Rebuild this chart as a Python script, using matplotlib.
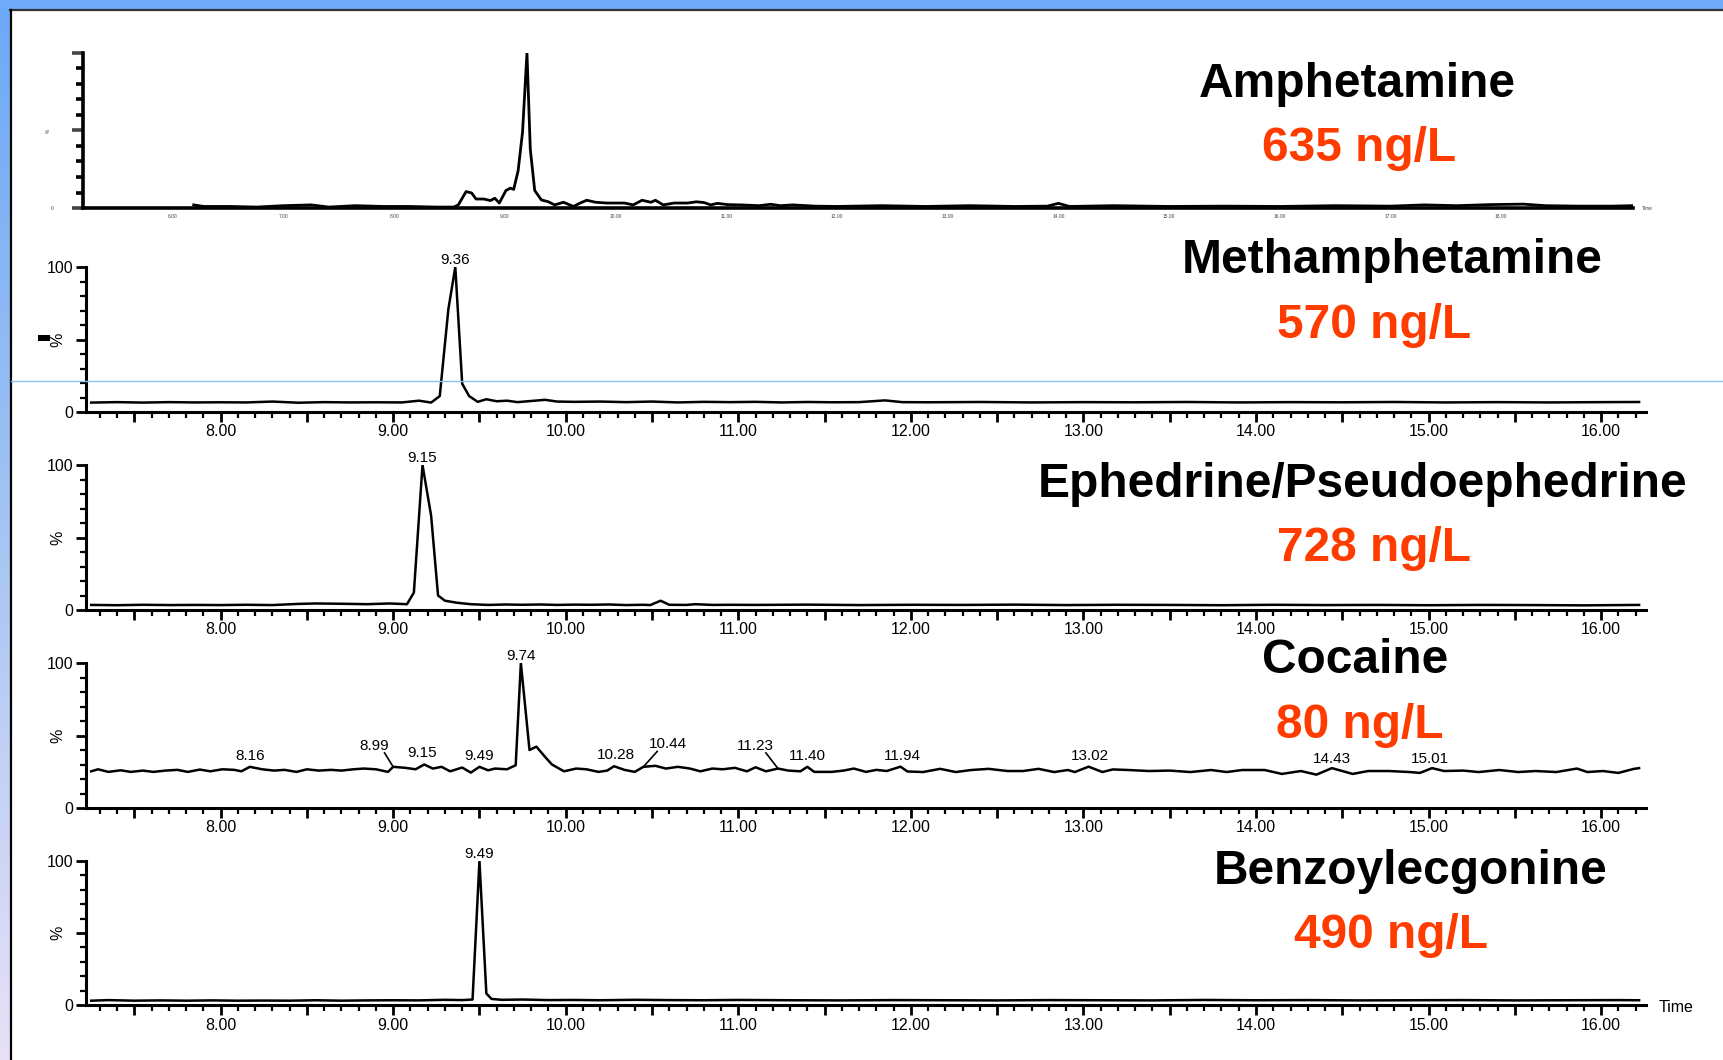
import numpy as np
import matplotlib
matplotlib.use('Agg')
import matplotlib.pyplot as plt
from matplotlib.ticker import MultipleLocator, FixedLocator, FuncFormatter
from matplotlib.patches import Rectangle
from matplotlib.lines import Line2D

plt.rcParams['font.family'] = ['Liberation Sans', 'DejaVu Sans']

# --- data (time [min], intensity [%]) ---
amph_t = [6.19, 6.28, 6.52, 6.76, 7.00, 7.25, 7.41, 7.65, 7.90, 8.14, 8.38, 8.54, 8.58,
          8.65, 8.70, 8.74, 8.81, 8.87, 8.91, 8.95, 9.01, 9.05, 9.08, 9.12, 9.16, 9.20,
          9.23, 9.27, 9.33, 9.39, 9.45, 9.53, 9.62, 9.68, 9.74, 9.82, 9.92, 10.08, 10.16,
          10.24, 10.32, 10.36, 10.43, 10.53, 10.65, 10.73, 10.80, 10.86, 10.92, 11.01,
          11.13, 11.30, 11.40, 11.49, 11.60, 11.80, 12.00, 12.40, 12.80, 13.20, 13.60,
          13.90, 14.00, 14.10, 14.50, 15.00, 15.50, 16.00, 16.50, 17.00, 17.30, 17.60,
          17.90, 18.20, 18.40, 18.70, 19.00, 19.18]
amph_y = [2.0, 1.0, 1.0, 0.6, 1.5, 2.0, 0.6, 1.5, 1.0, 1.0, 0.6, 0.6, 2.0,
          10.6, 9.7, 5.8, 5.8, 4.8, 6.3, 3.2, 11.3, 12.8, 12.0, 24.0, 49.0, 100.0,
          38.0, 11.3, 5.2, 4.1, 2.0, 3.7, 1.0, 3.2, 5.0, 3.7, 3.2, 3.2, 2.0,
          5.0, 3.7, 5.0, 2.0, 3.2, 3.2, 4.0, 3.5, 2.0, 3.0, 2.2,
          2.0, 1.5, 2.4, 1.5, 2.0, 1.2, 1.0, 1.5, 1.0, 1.5, 1.0,
          1.2, 3.0, 1.0, 1.5, 1.0, 1.2, 1.0, 1.5, 1.2, 2.0, 1.5,
          2.2, 2.5, 1.5, 1.2, 1.2, 1.5]

meth_t = [7.25, 7.40, 7.55, 7.70, 7.85, 8.00, 8.15, 8.30, 8.45, 8.60, 8.75, 8.90, 9.05,
          9.15, 9.22, 9.27, 9.32, 9.36, 9.40, 9.44, 9.49, 9.54, 9.60, 9.66, 9.72, 9.80,
          9.88, 9.95, 10.05, 10.20, 10.35, 10.50, 10.65, 10.80, 10.95, 11.10, 11.25,
          11.40, 11.55, 11.70, 11.85, 11.95, 12.10, 12.40, 12.70, 13.00, 13.30, 13.60,
          13.90, 14.20, 14.50, 14.80, 15.10, 15.40, 15.70, 16.00, 16.22]
meth_y = [6.5, 6.8, 6.5, 6.8, 6.6, 6.7, 6.6, 7.2, 6.4, 6.8, 6.6, 6.7, 6.6,
          7.8, 6.5, 11.0, 71.0, 100.0, 19.5, 11.0, 7.0, 8.8, 7.4, 7.8, 6.8, 7.6,
          8.4, 7.2, 7.0, 7.2, 6.8, 7.2, 6.6, 7.0, 6.8, 7.0, 6.6,
          6.9, 6.7, 6.8, 8.0, 6.8, 6.7, 6.9, 6.6, 6.8, 6.7, 6.9,
          6.6, 6.8, 6.7, 6.9, 6.6, 6.8, 6.6, 6.8, 6.9]

ephe_t = [7.25, 7.40, 7.55, 7.70, 7.85, 8.00, 8.15, 8.30, 8.45, 8.55, 8.70, 8.85, 8.98,
          9.08, 9.12, 9.17, 9.22, 9.26, 9.30, 9.37, 9.45, 9.55, 9.65, 9.75, 9.85, 9.95,
          10.05, 10.15, 10.25, 10.35, 10.45, 10.49, 10.55, 10.60, 10.70, 10.75, 10.85,
          10.95, 11.10, 11.40, 11.70, 12.00, 12.30, 12.60, 12.90, 13.20, 13.50, 13.80,
          14.10, 14.40, 14.70, 15.00, 15.30, 15.60, 15.90, 16.22]
ephe_y = [3.5, 3.3, 3.6, 3.4, 3.5, 3.4, 3.6, 3.4, 4.2, 4.5, 4.3, 4.0, 4.5,
          4.0, 12.0, 100.0, 65.0, 10.0, 6.4, 5.0, 4.0, 3.5, 3.8, 3.6, 3.8, 3.5,
          3.7, 3.6, 3.8, 3.4, 3.6, 3.4, 6.4, 3.6, 3.5, 4.0, 3.5,
          3.6, 3.5, 3.7, 3.4, 3.6, 3.5, 3.7, 3.4, 3.6, 3.5, 3.3,
          3.6, 3.4, 3.5, 3.3, 3.5, 3.4, 3.2, 3.5]

coca_t = [7.25, 7.29, 7.35, 7.42, 7.48, 7.55, 7.61, 7.68, 7.75, 7.81, 7.88, 7.94, 8.01,
          8.08, 8.12, 8.17, 8.24, 8.31, 8.37, 8.44, 8.50, 8.57, 8.64, 8.70, 8.77, 8.83,
          8.90, 8.97, 9.00, 9.07, 9.13, 9.18, 9.23, 9.28, 9.33, 9.40, 9.45, 9.50, 9.55,
          9.59, 9.66, 9.71, 9.74, 9.79, 9.83, 9.88, 9.92, 9.99, 10.06, 10.12, 10.19,
          10.24, 10.28, 10.34, 10.40, 10.45, 10.52, 10.58, 10.65, 10.72, 10.78, 10.85,
          10.91, 10.98, 11.05, 11.10, 11.16, 11.23, 11.29, 11.36, 11.40, 11.44, 11.54,
          11.61, 11.67, 11.74, 11.80, 11.86, 11.94, 11.98, 12.07, 12.17, 12.26, 12.35,
          12.45, 12.56, 12.65, 12.74, 12.83, 12.91, 12.95, 13.03, 13.11, 13.17, 13.26,
          13.38, 13.50, 13.62, 13.74, 13.83, 13.92, 14.05, 14.15, 14.26, 14.35, 14.44,
          14.56, 14.65, 14.77, 14.89, 14.95, 15.02, 15.09, 15.20, 15.29, 15.41, 15.52,
          15.62, 15.74, 15.86, 15.92, 16.01, 16.10, 16.19, 16.22]
coca_y = [25.3, 26.7, 24.9, 26.0, 24.9, 25.8, 24.9, 25.8, 26.3, 24.9, 26.5, 25.3, 26.7,
          26.3, 25.3, 28.4, 26.7, 25.8, 26.3, 24.9, 26.7, 25.8, 26.3, 25.8, 26.7, 27.2,
          26.7, 24.9, 28.4, 27.7, 26.7, 30.0, 27.2, 28.4, 25.3, 27.9, 24.4, 28.4, 26.0,
          27.2, 26.7, 29.5, 100.0, 40.0, 42.3, 35.3, 30.0, 25.3, 27.2, 26.7, 24.9,
          25.8, 28.8, 26.3, 24.9, 28.4, 29.1, 27.2, 28.4, 27.2, 25.3, 27.2,
          26.7, 27.7, 25.3, 28.1, 25.3, 27.2, 25.8, 25.3, 28.4, 24.9, 24.9,
          25.8, 27.2, 24.9, 26.3, 25.5, 28.5, 25.2, 24.8, 27.0, 24.8, 26.2,
          27.0, 25.5, 25.5, 27.0, 24.8, 26.2, 24.8, 28.5, 24.8, 26.6, 26.2,
          25.5, 25.8, 24.8, 26.2, 24.8, 26.2, 26.2, 23.5, 25.5, 23.0, 27.5,
          23.5, 25.5, 25.5, 24.8, 24.2, 27.5, 25.5, 25.8, 24.8, 26.2, 24.8,
          25.5, 24.8, 27.2, 24.8, 25.5, 24.2, 27.0, 27.5]

benz_t = [7.25, 7.35, 7.50, 7.65, 7.80, 7.95, 8.10, 8.25, 8.40, 8.55, 8.70, 8.85, 9.00,
          9.15, 9.30, 9.40, 9.46, 9.50, 9.54, 9.57, 9.63, 9.75, 9.90, 10.05, 10.20,
          10.40, 10.60, 10.80, 11.00, 11.30, 11.60, 11.90, 12.20, 12.50, 12.80, 13.10,
          13.40, 13.70, 14.00, 14.30, 14.60, 14.90, 15.20, 15.50, 15.80, 16.10, 16.22]
benz_y = [3.0, 3.4, 3.0, 3.2, 3.0, 3.2, 3.0, 3.1, 3.0, 3.3, 3.0, 3.2, 3.3,
          3.2, 3.6, 3.4, 3.8, 100.0, 8.0, 4.2, 3.6, 3.8, 3.4, 3.5, 3.3,
          3.6, 3.4, 3.3, 3.5, 3.3, 3.2, 3.4, 3.3, 3.2, 3.4, 3.3,
          3.2, 3.5, 3.3, 3.4, 3.2, 3.3, 3.4, 3.2, 3.3, 3.4, 3.3]

compounds = ['Amphetamine', 'Methamphetamine', 'Ephedrine/Pseudoephedrine',
             'Cocaine', 'Benzoylecgonine']
concentrations = ['635 ng/L', '570 ng/L', '728 ng/L', '80 ng/L', '490 ng/L']

# peak labels: (text, x of label, y of label, peak x, peak y)
coca_labels = [('8.16', 8.17, 31, None, None), ('8.99', 8.89, 38, 9.00, 28.4),
               ('9.15', 9.17, 33, None, None), ('9.49', 9.50, 31, None, None),
               ('10.28', 10.29, 32, None, None), ('10.44', 10.59, 39, 10.45, 28.4),
               ('11.23', 11.10, 38, 11.23, 27.2), ('11.40', 11.40, 31, None, None),
               ('11.94', 11.95, 31, None, None), ('13.02', 13.04, 31, None, None),
               ('14.43', 14.44, 29, None, None), ('15.01', 15.01, 29, None, None)]

W, H = 1724, 1060
fig = plt.figure(figsize=(W / 100, H / 100), dpi=100)
fig.patch.set_facecolor('white')


def rect(l, t, r, b):
    return [l / W, 1 - b / H, (r - l) / W, (b - t) / H]


def fx(px):
    return px / W


def fy(py):
    return 1 - py / H


# --- slide frame ---
band = fig.add_axes([0, 0, 10 / W, 1])
grad = np.linspace(0, 1, 256)
cols = np.array([[0.42, 0.66, 0.97], [0.62, 0.76, 0.95], [0.91, 0.88, 0.97]])
img = np.stack([np.interp(grad, [0, 0.45, 1], cols[:, k]) for k in range(3)], axis=-1)[:, None, :]
band.imshow(img, aspect='auto', extent=[0, 1, 0, 1])
band.axis('off')
fig.add_artist(Rectangle((0, fy(9)), 1, 9 / H, transform=fig.transFigure,
                         facecolor='#6eaaf8', edgecolor='none', zorder=5))
fig.add_artist(Line2D([fx(10), 1], [fy(10), fy(10)], transform=fig.transFigure,
                      color='#333333', lw=1.6, zorder=6))
fig.add_artist(Line2D([fx(11), fx(11)], [0, fy(10)], transform=fig.transFigure,
                      color='black', lw=1.6, zorder=6))
fig.add_artist(Line2D([fx(11), 1], [fy(381), fy(381)], transform=fig.transFigure,
                      color='#8ec0f8', lw=1.0, zorder=6))
fig.add_artist(Rectangle((fx(38), fy(341)), 12 / W, 6 / H, transform=fig.transFigure,
                         facecolor='black', edgecolor='none', zorder=6))

# --- panel 1 (small, from a different run) ---
ax1 = fig.add_axes(rect(83, 53, 1633, 208))
ax1.plot(amph_t, amph_y, color='black', lw=2.0)
ax1.set_xlim(5.19, 19.19)
ax1.set_ylim(0, 100)
for s in ['top', 'right']:
    ax1.spines[s].set_visible(False)
for s in ['left', 'bottom']:
    ax1.spines[s].set_linewidth(2.6)
ax1.xaxis.set_major_locator(FixedLocator([6, 7, 8, 9, 10, 11, 12, 13, 14, 15, 16, 17, 18]))
ax1.xaxis.set_major_formatter(FuncFormatter(lambda v, p: f'{v:.2f}'))
ax1.tick_params(axis='x', length=0, labelsize=3.5, pad=4, colors='#444444')
ax1.yaxis.set_major_locator(FixedLocator([0, 50, 100]))
ax1.yaxis.set_minor_locator(MultipleLocator(10))
ax1.yaxis.set_major_formatter(FuncFormatter(lambda v, p: '0' if v == 0 else ''))
ax1.tick_params(axis='y', which='major', length=8, width=2.6, labelsize=3.5, pad=13,
                colors='#444444')
ax1.tick_params(axis='y', which='minor', length=5, width=2.6)
ax1.set_ylabel('%', fontsize=3.5, color='#444444')
ax1.yaxis.set_label_coords(-0.021, 0.5)
fig.text(fx(1647), fy(209), 'Time', fontsize=3.5, ha='center', va='center', color='#444444')

# --- panels 2-5 ---
tops = [267, 465, 663, 861]
bottoms = [412, 610, 808, 1005]
traces = [(meth_t, meth_y, '9.36', 9.36), (ephe_t, ephe_y, '9.15', 9.17),
          (coca_t, coca_y, '9.74', 9.74), (benz_t, benz_y, '9.49', 9.50)]

for i, (t, y, lab, tp) in enumerate(traces):
    ax = fig.add_axes(rect(86, tops[i], 1646, bottoms[i]))
    ax.plot(t, y, color='black', lw=1.8)
    ax.set_xlim(7.22, 16.26)
    ax.set_ylim(0, 100)
    for s in ['top', 'right']:
        ax.spines[s].set_visible(False)
    for s in ['left', 'bottom']:
        ax.spines[s].set_linewidth(2.2)
    ax.xaxis.set_major_locator(MultipleLocator(0.5))
    ax.xaxis.set_minor_locator(MultipleLocator(0.1))
    ax.xaxis.set_major_formatter(FuncFormatter(
        lambda v, p: f'{v:.2f}' if abs(v - round(v)) < 1e-6 else ''))
    ax.yaxis.set_major_locator(FixedLocator([0, 50, 100]))
    ax.yaxis.set_minor_locator(MultipleLocator(10))
    ax.yaxis.set_major_formatter(FuncFormatter(
        lambda v, p: '' if v == 50 else f'{v:.0f}'))
    ax.tick_params(which='major', length=7, width=2.0, labelsize=11.5, pad=2)
    ax.tick_params(which='minor', length=4, width=1.6)
    ax.set_ylabel('%', fontsize=11.5)
    ax.yaxis.set_label_coords(-0.013, 0.5)
    ax.text(tp, 100, lab, fontsize=11, ha='center', va='bottom')
    if i == 2:
        for txt, lx, ly, px, py in coca_labels:
            ax.text(lx, ly, txt, fontsize=11, ha='center', va='bottom')
            if px is not None:
                sx = lx + (0.06 if px > lx else -0.06)
                ax.plot([sx, px], [ly, py], color='black', lw=1.2)

fig.text(fx(1676), fy(1007), 'Time', fontsize=11.5, ha='center', va='center')

# --- compound names and concentrations ---
name_pos = [(1357, 97), (1392, 273), (1363, 497), (1355, 673), (1411, 884)]
conc_pos = [(1359, 161), (1374, 338), (1374, 561), (1360, 738), (1391, 948)]
for name, conc, (nx, ny), (cx, cy) in zip(compounds, concentrations, name_pos, conc_pos):
    fig.text(fx(nx), fy(ny), name, fontsize=34.5, fontweight='bold',
             ha='center', va='baseline', color='black')
    fig.text(fx(cx), fy(cy), conc, fontsize=34.5, fontweight='bold',
             ha='center', va='baseline', color='#ff3c00')

fig.savefig('out.png', dpi=100, facecolor='white')
